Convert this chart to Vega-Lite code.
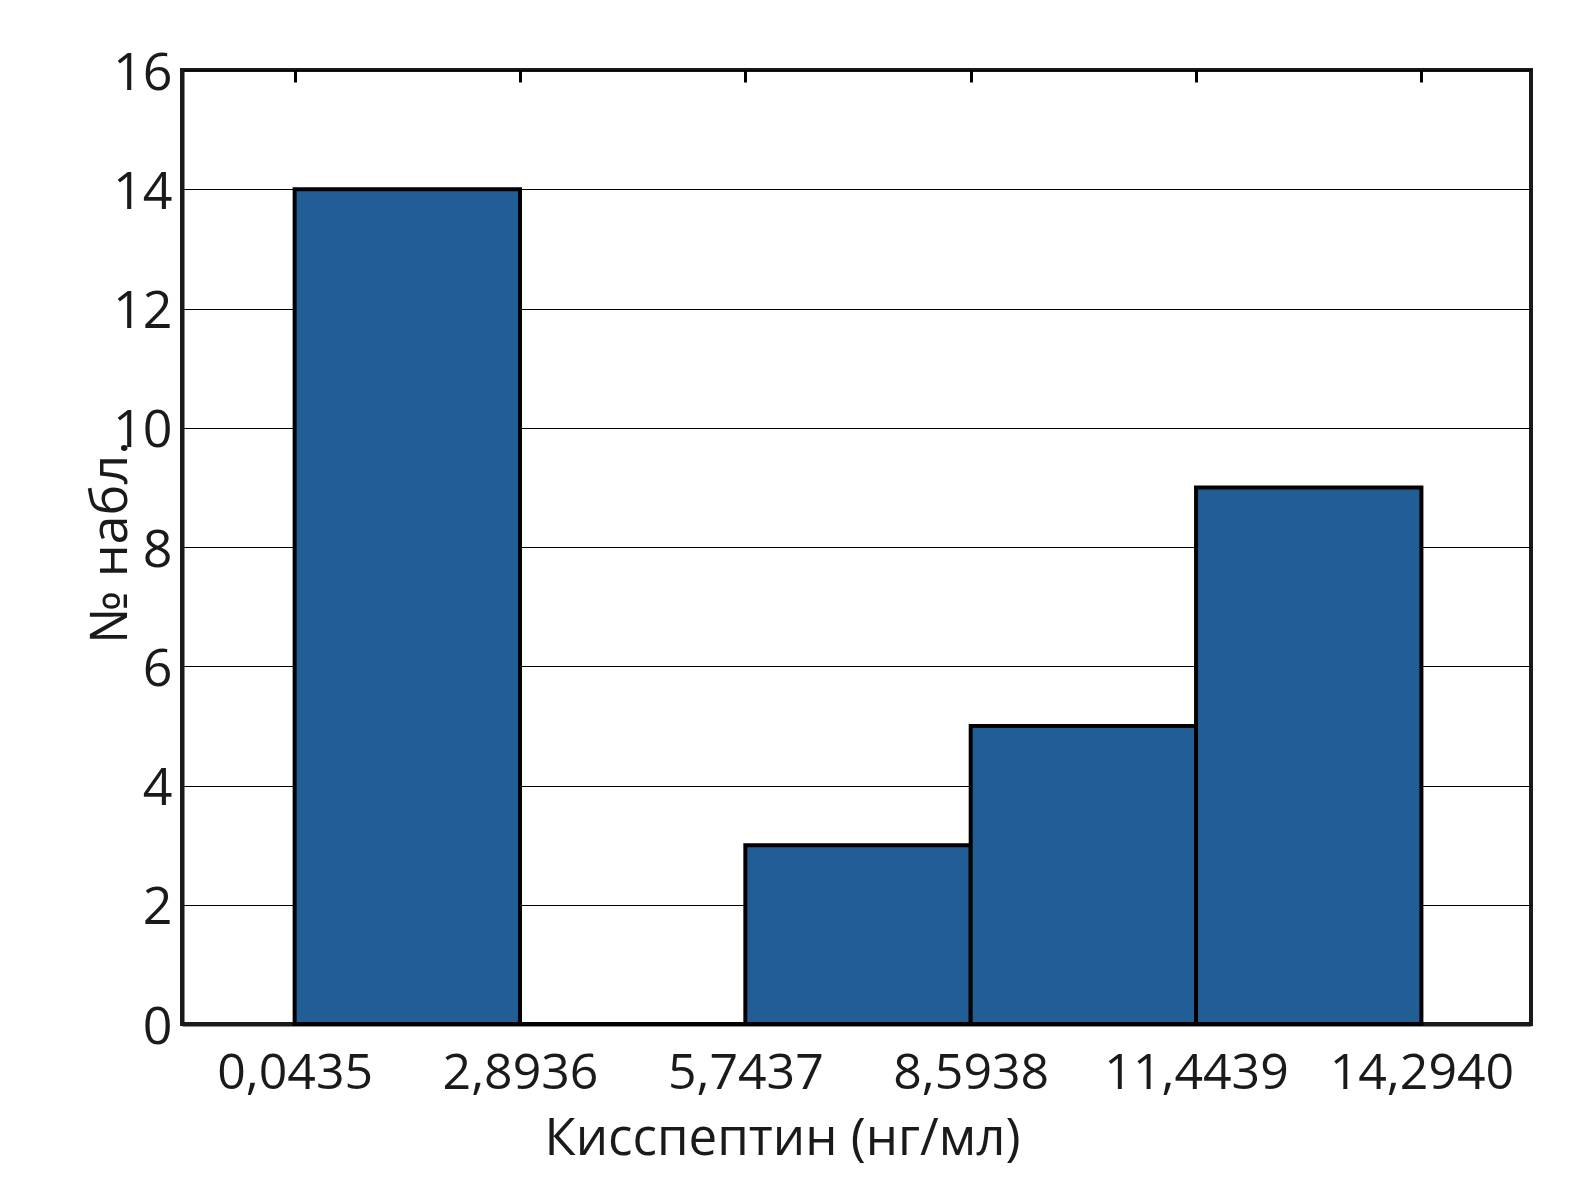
{
  "$schema": "https://vega.github.io/schema/vega-lite/v6.json",
  "width": 1349,
  "height": 954,
  "autosize": {"type": "none"},
  "padding": {"left": 182, "top": 70, "right": 56, "bottom": 165},
  "background": "white",
  "config": {
    "view": {"stroke": "#1a1a1a", "strokeWidth": 4},
    "font": "Open Sans"
  },
  "data": {
    "values": [
      {"lo": 0.0435, "hi": 2.8936, "count": 14},
      {"lo": 2.8936, "hi": 5.7437, "count": 0},
      {"lo": 5.7437, "hi": 8.5938, "count": 3},
      {"lo": 8.5938, "hi": 11.4439, "count": 5},
      {"lo": 11.4439, "hi": 14.294, "count": 9}
    ]
  },
  "layer": [
    {
      "mark": {"type": "rect", "fill": "#225E96", "stroke": "#000000", "strokeWidth": 4},
      "encoding": {
        "x": {
          "field": "lo",
          "type": "quantitative",
          "scale": {"domain": [-1.381, 15.68], "nice": false, "zero": false},
          "axis": {
            "orient": "bottom",
            "values": [0.0435, 2.8936, 5.7437, 8.5938, 11.4439, 14.294],
            "labelExpr": "replace(format(datum.value, '.4f'), '.', ',')",
            "labelFontSize": 50,
            "labelColor": "#1a1a1a",
            "labelBaseline": "alphabetic",
            "labelPadding": 64,
            "labelLimit": 0,
            "labelFlush": false,
            "labelOverlap": false,
            "ticks": false,
            "grid": false,
            "domain": true,
            "domainColor": "#1a1a1a",
            "domainWidth": 4,
            "title": "Кисспептин (нг/мл)",
            "titleFontSize": 51,
            "titleFontWeight": "normal",
            "titleColor": "#1a1a1a",
            "titleX": 600,
            "titleY": 130,
            "titleBaseline": "alphabetic",
            "titleLimit": 0
          }
        },
        "x2": {"field": "hi"},
        "y": {
          "field": "count",
          "type": "quantitative",
          "scale": {"domain": [0, 16], "nice": false},
          "axis": {
            "values": [0, 2, 4, 6, 8, 10, 12, 14, 16],
            "grid": true,
            "gridColor": "#000000",
            "gridWidth": 1,
            "gridOpacity": 1,
            "ticks": false,
            "domain": true,
            "domainColor": "#1a1a1a",
            "domainWidth": 4,
            "labelFontSize": 52,
            "labelColor": "#1a1a1a",
            "labelPadding": 10,
            "labelBaseline": "middle",
            "labelOffset": 3,
            "labelLimit": 0,
            "labelFlush": false,
            "labelOverlap": false,
            "title": "№ набл.",
            "titleFontSize": 52,
            "titleFontWeight": "normal",
            "titleColor": "#1a1a1a",
            "titleX": -56,
            "titleY": 472,
            "titleBaseline": "alphabetic",
            "titleLimit": 0
          }
        },
        "y2": {"datum": 0}
      }
    },
    {
      "mark": {"type": "rect", "fillOpacity": 0, "strokeOpacity": 0},
      "encoding": {
        "x": {
          "field": "lo",
          "type": "quantitative",
          "axis": {
            "orient": "top",
            "values": [0.0435, 2.8936, 5.7437, 8.5938, 11.4439, 14.294],
            "labels": false,
            "ticks": true,
            "tickSize": -12,
            "tickWidth": 3,
            "tickColor": "#000000",
            "domain": false,
            "grid": false,
            "title": null
          }
        },
        "x2": {"field": "hi"}
      }
    }
  ],
  "resolve": {"axis": {"x": "independent"}}
}
